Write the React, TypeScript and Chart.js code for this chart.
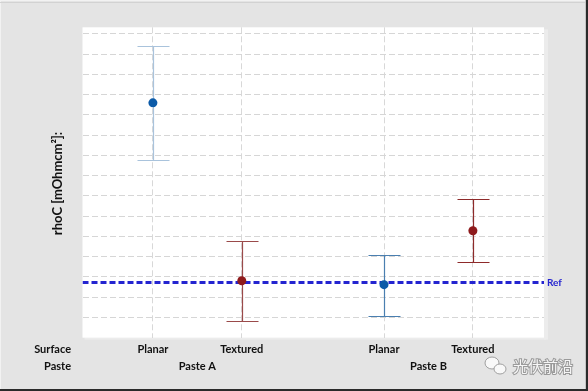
import React, { useEffect, useRef } from "react";
import { Chart, registerables } from "chart.js";

Chart.register(...registerables);

// ---- data ----
const categories = ["Planar", "Textured", "Planar", "Textured"];
const pastes = ["Paste A", "Paste B"];
const rowHeaders = ["Surface", "Paste"];
const xPositions = [1, 2, 3.6, 4.6];
const means = [11.6, 2.81, 2.62, 5.28];
const upper = [14.4, 4.76, 4.07, 6.83];
const lower = [8.77, 0.82, 1.06, 3.72];
const refValue = 2.73;
const refLabel = "Ref";
const yTitle = "rhoC [mOhmcm²]:";
const watermark = "光伏前沿";

// ---- styles ----
const pointColors = ["#0b5aa8", "#8e1a1c", "#0b5aa8", "#8e1a1c"];
const barColors = ["#a9c3dc", "#9a4a4a", "#4a7fb0", "#8e2a2a"];
const X_MIN = 0.208;
const X_MAX = 5.4;
const Y_MIN = 0;
const Y_MAX = 15.33;

const bgPlugin = {
  id: "bgPlugin",
  beforeDraw(chart: any) {
    const { ctx, width, height, chartArea } = chart;
    ctx.save();
    ctx.fillStyle = "#e4e4e4";
    ctx.fillRect(0, 0, width, height);
    // frame
    ctx.fillStyle = "#f2f2f2";
    ctx.fillRect(0, 0, width, 1);
    ctx.fillRect(0, 0, 1, height);
    ctx.fillStyle = "#d2d2d2";
    ctx.fillRect(0, 2, width, 1);
    ctx.fillStyle = "#c4c4c4";
    ctx.fillRect(width - 3, 0, 1, height);
    ctx.fillStyle = "#2a2a2a";
    ctx.fillRect(0, height - 2, width, 2);
    ctx.fillRect(width - 2, 0, 2, height);
    // plot shadow
    ctx.fillStyle = "#ececec";
    ctx.fillRect(chartArea.right, chartArea.top + 2, 4, chartArea.bottom - chartArea.top);
    ctx.fillRect(chartArea.left + 2, chartArea.bottom, chartArea.right - chartArea.left, 2);
    ctx.fillStyle = "#ffffff";
    ctx.fillRect(chartArea.left, chartArea.top, chartArea.right - chartArea.left, chartArea.bottom - chartArea.top);
    ctx.restore();
  },
};

const errorBarPlugin = {
  id: "errorBarPlugin",
  beforeDatasetsDraw(chart: any) {
    const { ctx } = chart;
    const xs = chart.scales.x;
    const ys = chart.scales.y;
    ctx.save();
    xPositions.forEach((xv, i) => {
      const x = Math.round(xs.getPixelForValue(xv)) + 0.5;
      const yt = Math.round(ys.getPixelForValue(upper[i])) + 0.5;
      const yb = Math.round(ys.getPixelForValue(lower[i])) + 0.5;
      ctx.strokeStyle = barColors[i];
      ctx.lineWidth = 1.2;
      ctx.beginPath();
      ctx.moveTo(x, yt);
      ctx.lineTo(x, yb);
      ctx.moveTo(x - 16, yt);
      ctx.lineTo(x + 16, yt);
      ctx.moveTo(x - 16, yb);
      ctx.lineTo(x + 16, yb);
      ctx.stroke();
    });
    ctx.restore();
  },
};

const textPlugin = {
  id: "textPlugin",
  afterDraw(chart: any) {
    const { ctx, chartArea } = chart;
    const xs = chart.scales.x;
    const ys = chart.scales.y;
    ctx.save();
    ctx.fillStyle = "#111111";
    ctx.font = "bold 11px Lato";
    ctx.textBaseline = "middle";
    const row1 = chartArea.bottom + 12;
    const row2 = chartArea.bottom + 29;
    ctx.textAlign = "right";
    ctx.fillText(rowHeaders[0], 71, row1);
    ctx.fillText(rowHeaders[1], 71, row2);
    ctx.textAlign = "center";
    categories.forEach((c, i) => {
      ctx.fillText(c, xs.getPixelForValue(xPositions[i]), row1);
    });
    pastes.forEach((p, g) => {
      const xa = xs.getPixelForValue(xPositions[g * 2]);
      const xb = xs.getPixelForValue(xPositions[g * 2 + 1]);
      ctx.fillText(p, (xa + xb) / 2, row2);
    });
    // y title
    ctx.save();
    ctx.translate(58, (chartArea.top + chartArea.bottom) / 2 + 1);
    ctx.rotate(-Math.PI / 2);
    ctx.font = "bold 13px Lato";
    ctx.fillText(yTitle, 0, 0);
    ctx.restore();
    // Ref label
    ctx.textAlign = "left";
    ctx.fillStyle = "#2424d0";
    ctx.font = "bold 10px Lato";
    ctx.fillText(refLabel, chartArea.right + 3, ys.getPixelForValue(refValue));
    // watermark
    ctx.font = "15px 'Noto Sans CJK SC'";
    ctx.lineWidth = 2;
    ctx.strokeStyle = "#9a9a9a";
    ctx.strokeText(watermark, 513, 366);
    ctx.fillStyle = "#f6f6f6";
    ctx.fillText(watermark, 513, 366);
    // small icon
    ctx.strokeStyle = "#a0a0a0";
    ctx.fillStyle = "#f8f8f8";
    ctx.lineWidth = 1;
    ctx.beginPath();
    ctx.ellipse(492, 363, 7, 6, 0, 0, Math.PI * 2);
    ctx.fill();
    ctx.stroke();
    ctx.beginPath();
    ctx.ellipse(500, 369, 6, 5, 0, 0, Math.PI * 2);
    ctx.fill();
    ctx.stroke();
    ctx.restore();
  },
};

export default function App() {
  const canvasRef = useRef<HTMLCanvasElement>(null);

  useEffect(() => {
    document.body.style.margin = "0";
    const canvas = canvasRef.current;
    if (!canvas) return;
    const chart = new Chart(canvas, {
      type: "scatter",
      data: {
        datasets: [
          {
            type: "scatter",
            data: xPositions.map((x, i) => ({ x, y: means[i] })),
            pointBackgroundColor: pointColors,
            pointBorderColor: pointColors,
            pointBorderWidth: 0,
            pointRadius: 4.5,
            order: 0,
          } as any,
          {
            type: "line",
            data: [
              { x: X_MIN, y: refValue },
              { x: X_MAX, y: refValue },
            ],
            borderColor: "#2424d0",
            borderWidth: 3,
            borderDash: [6, 3],
            pointRadius: 0,
            fill: false,
            order: 1,
          } as any,
        ],
      },
      options: {
        animation: false,
        responsive: false,
        maintainAspectRatio: false,
        layout: { padding: { left: 82.5, right: 44, top: 27.3, bottom: 53.3 } },
        plugins: {
          legend: { display: false },
          tooltip: { enabled: false },
          title: { display: false },
        },
        scales: {
          x: {
            type: "linear",
            min: X_MIN,
            max: X_MAX,
            afterBuildTicks: (axis: any) => {
              axis.ticks = xPositions.map((v) => ({ value: v }));
            },
            ticks: { display: false },
            grid: { color: "#d8d8d8", lineWidth: 1, drawTicks: false },
            border: { display: false, dash: [6, 3] },
          },
          y: {
            type: "linear",
            min: Y_MIN,
            max: Y_MAX,
            ticks: { display: false, stepSize: 1, includeBounds: false },
            grid: {
              color: (c: any) => (c.tick && c.tick.value > 0 ? "#d6d6d6" : "rgba(0,0,0,0)"),
              lineWidth: 1,
              drawTicks: false,
            },
            border: { display: false, dash: [6, 3] },
          },
        },
      } as any,
      plugins: [bgPlugin, errorBarPlugin, textPlugin],
    });
    return () => chart.destroy();
  }, []);

  return <canvas ref={canvasRef} width={588} height={391} style={{ display: "block" }} />;
}
